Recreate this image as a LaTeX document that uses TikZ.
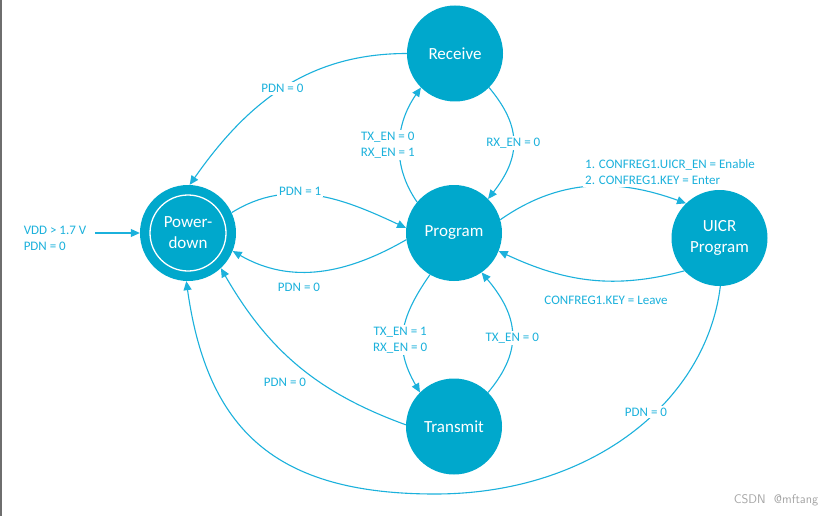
\documentclass[tikz,border=0pt]{standalone}
\usepackage{fontspec}
\setmainfont{Carlito}
\usetikzlibrary{arrows.meta}
\definecolor{nodefill}{RGB}{0,168,204}
\definecolor{linec}{RGB}{27,177,220}
\definecolor{wmark}{RGB}{165,165,165}
\definecolor{edge}{RGB}{110,110,110}
\tikzset{
  state/.style={circle, fill=nodefill, minimum size=96pt, inner sep=0pt, text=white,
    font=\fontsize{17}{21}\selectfont, align=center},
  arr/.style={draw=linec, line width=1.1pt, -{Triangle[length=9pt,width=8pt]}},
  lbl/.style={text=linec, font=\fontsize{13}{16}\selectfont, align=center, fill=white, inner sep=2pt},
  plainlbl/.style={text=linec, font=\fontsize{13}{16}\selectfont, inner sep=2pt},
}
\begin{document}
\begin{tikzpicture}[x=1pt,y=1pt]
\useasboundingbox (0,0) rectangle (840,-516);
\fill[white] (0,0) rectangle (840,-516);
\draw[edge, line width=1.5pt] (0.75,0) -- (0.75,-516);

% states
\node[state] (pd) at (188,-233) {Power-\\down};
\draw[white, line width=1.3pt] (pd.center) circle[radius=38pt];
\node[state] (rec) at (455,-53.5) {Receive};
\node[state] (prog) at (454,-233) {Program};
\node[state] (tr) at (454,-426.5) {Transmit};
\node[state] (uicr) at (719.5,-238) {UICR\\Program};

% initial transition
\coordinate (vin) at (95,-233);
\node[plainlbl, align=left] (vinlbl) at (55,-238) {VDD > 1.7 V\\PDN = 0};
\draw[arr] (vin) -- (pd.west);

% Receive -> Power-down
\draw[arr] (rec.180) to[out=180,in=55] node[lbl, pos=0.5] (l1) {PDN = 0} (pd.88);

% Power-down -> Program
\draw[arr] (pd.25) to[out=32,in=155] node[lbl, pos=0.4, yshift=3pt] (l2) {PDN = 1} (prog.174);

% Program -> Power-down
\draw[arr] (prog.188) to[out=210,in=-30] (pd.-22);
\node[plainlbl] (l3) at (299,-287) {PDN = 0};

% Program -> Receive
\draw[arr] (prog.140) to[out=125,in=235] node[lbl, pos=0.5, xshift=-12pt] (l4) {TX\_EN = 0\\RX\_EN = 1} (rec.225);

% Receive -> Program
\draw[arr] (rec.-45) to[out=-50,in=52,looseness=1.2] node[lbl, pos=0.5] (l5) {RX\_EN = 0} (prog.45);

% Program -> Transmit
\draw[arr] (prog.240) to[out=235,in=120,looseness=1.15] node[lbl, pos=0.57, xshift=-3pt] (l6) {TX\_EN = 1\\RX\_EN = 0} (tr.135);

% Transmit -> Program
\draw[arr] (tr.45) to[out=50,in=-50,looseness=1.2] node[lbl, pos=0.45] (l7) {TX\_EN = 0} (prog.-55);

% Program -> UICR
\draw[arr] (prog.16) to[out=35,in=160] (uicr.134);
\node[lbl, align=left] (l8) at (670,-172) {1. CONFREG1.UICR\_EN = Enable\\2. CONFREG1.KEY = Enter};

% UICR -> Program
\draw[arr] (uicr.223) to[out=195,in=-25] (prog.-22);
\node[plainlbl] (l9) at (606,-300) {CONFREG1.KEY = Leave};

% Transmit -> Power-down
\draw[arr] (tr.178) to[out=160,in=-60] (pd.-47);
\node[lbl] (l10) at (285,-382) {PDN = 0};

% UICR -> Power-down
\coordinate (bot) at (435,-494);
\draw[arr] (uicr.271) .. controls +(-14,-115) and +(157,0) .. (bot)
                      .. controls +(-160,0) and +(20.9,-148.5) .. (pd.268);
\node[lbl] (l11) at (646,-412) {PDN = 0};

% watermark
\node[text=wmark, font=\fontsize{12.5}{14}\selectfont\sffamily, inner sep=0pt] (wm) at (776,-500) {CSDN\ \ @mftang};
\end{tikzpicture}
\end{document}
